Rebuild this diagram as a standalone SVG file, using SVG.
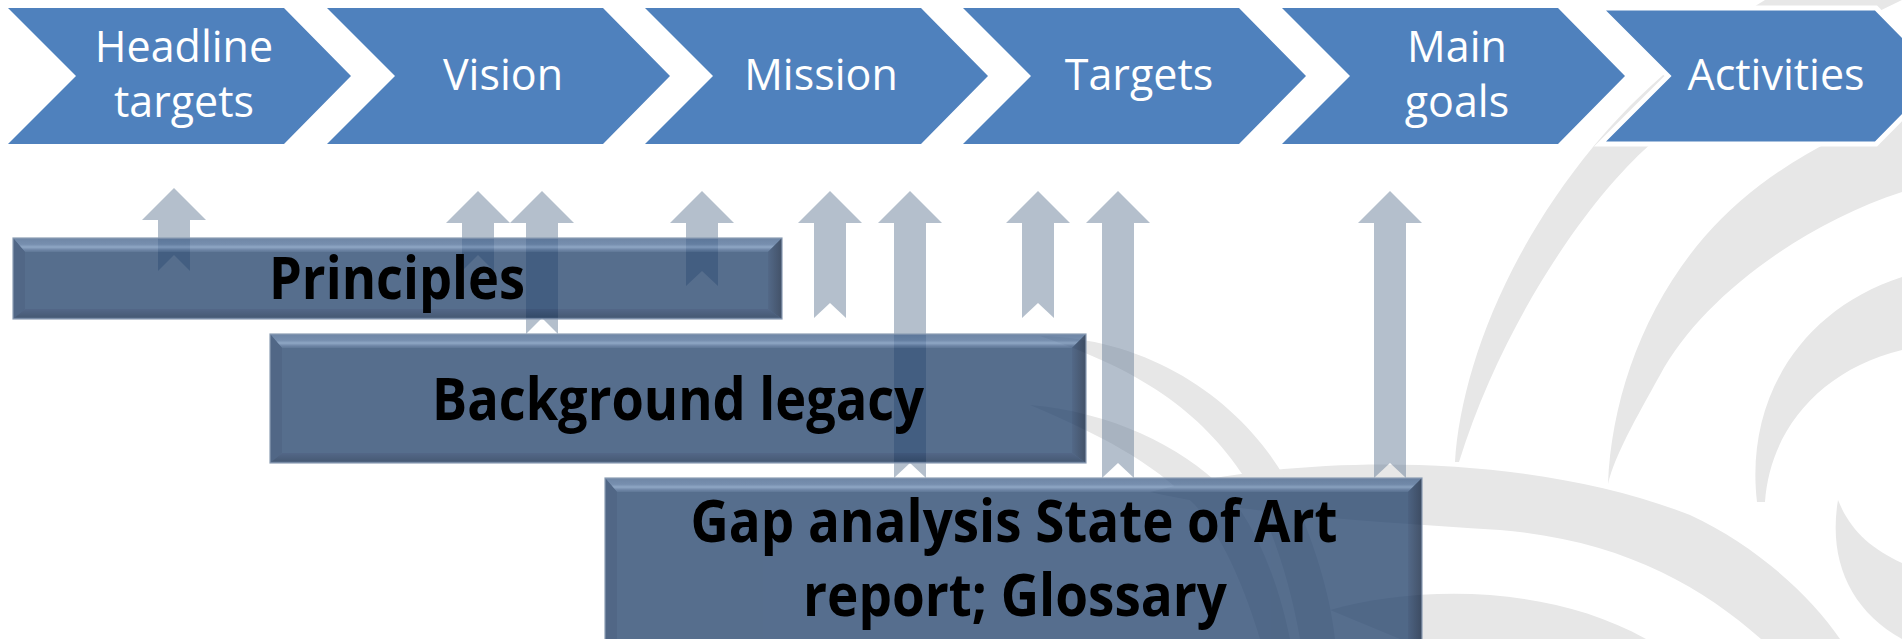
<svg xmlns="http://www.w3.org/2000/svg" width="1902" height="639" viewBox="0 0 1902 639">
<style>
.chev{fill:#4F81BD;}
.lbl{font-family:"Open Sans","Liberation Sans",sans-serif;font-size:43px;fill:#FFFFFF;text-anchor:middle;}
.bold{font-family:"Open Sans","Liberation Sans",sans-serif;font-size:59px;font-weight:700;fill:#000000;text-anchor:middle;}
.arrow{fill:#6A7F99;fill-opacity:0.5;}
.swirl{fill:#E7E7E7;}
.base{fill:#1E3E68;}
.lft{fill:#17355E;}
.edge{fill:none;stroke:#8C9DB4;stroke-width:1.2;}
</style>
<defs>
<linearGradient id="gTop" x1="0" y1="0" x2="0" y2="1">
<stop offset="0" stop-color="#3F5E88"/>
<stop offset="0.45" stop-color="#4A6A94"/>
<stop offset="0.65" stop-color="#6A8AB2"/>
<stop offset="0.85" stop-color="#3F5E88"/>
<stop offset="1" stop-color="#2A4A74"/>
</linearGradient>
<linearGradient id="gRight" x1="0" y1="0" x2="1" y2="0">
<stop offset="0" stop-color="#1A3760"/>
<stop offset="1" stop-color="#041836"/>
</linearGradient>
<linearGradient id="gBottom" x1="0" y1="0" x2="0" y2="1">
<stop offset="0" stop-color="#1A3560"/>
<stop offset="0.8" stop-color="#0A2448"/>
<stop offset="1" stop-color="#34507A"/>
</linearGradient>
</defs>
<rect x="0" y="0" width="1902" height="639" fill="#FFFFFF"/>

<g id="swirl">
<path class="swirl" d="M1455,462 C1460,380 1500,260 1593,147 C1640,90 1700,40 1765,0 L1902,0 C1800,50 1700,100 1643,151 C1580,210 1500,330 1459,462 Z"/>
<path class="swirl" d="M1608,484 C1612,380 1660,260 1760,185 C1800,155 1850,128 1902,112 L1902,192 C1800,225 1700,300 1660,375 C1635,420 1615,455 1608,484 Z"/>
<path class="swirl" d="M1757,502 C1745,400 1800,310 1902,277 L1902,350 C1820,370 1770,430 1765,502 Z"/>
<path class="swirl" d="M1838,500 C1828,560 1850,610 1902,639 L1902,563 C1870,548 1850,530 1838,500 Z"/>
<path class="swirl" d="M1150,492 C1300,452 1530,452 1690,515 C1755,545 1810,595 1840,639 L1761,639 C1700,585 1620,540 1500,530 C1380,522 1250,515 1150,492 Z"/>
<path class="swirl" d="M1330,610 C1420,585 1550,585 1646,639 L1400,639 Z"/>
<path class="swirl" d="M1040,336 C1150,338 1240,400 1285,478 C1310,530 1330,590 1335,639 L1300,639 C1290,580 1270,520 1245,478 C1200,410 1140,370 1040,336 Z"/>
<path class="swirl" d="M1030,405 C1110,412 1180,445 1225,490 C1260,530 1280,590 1290,639 L1260,639 C1245,590 1225,540 1195,505 C1150,460 1100,435 1030,405 Z"/>
</g>

<g id="chevron-headline">
<path class="chev" d="M8,8 L284,8 L351,76 L284,144 L8,144 L76,76 Z"/>
<text class="lbl" x="184" y="62">Headline</text>
<text class="lbl" x="184" y="117">targets</text>
</g>
<g id="chevron-vision">
<path class="chev" d="M327,8 L603,8 L670,76 L603,144 L327,144 L395,76 Z"/>
<text class="lbl" x="503" y="90">Vision</text>
</g>
<g id="chevron-mission">
<path class="chev" d="M645,8 L921,8 L988,76 L921,144 L645,144 L713,76 Z"/>
<text class="lbl" x="821" y="90">Mission</text>
</g>
<g id="chevron-targets">
<path class="chev" d="M963,8 L1239,8 L1306,76 L1239,144 L963,144 L1031,76 Z"/>
<text class="lbl" x="1139" y="90">Targets</text>
</g>
<g id="chevron-maingoals">
<path class="chev" d="M1282,8 L1558,8 L1625,76 L1558,144 L1282,144 L1350,76 Z"/>
<text class="lbl" x="1457" y="62">Main</text>
<text class="lbl" x="1457" y="117">goals</text>
</g>
<g id="chevron-activities">
<path class="chev" d="M1600,8 L1876,8 L1943,76 L1876,144 L1600,144 L1668,76 Z" stroke="#FFFFFF" stroke-width="5" stroke-linejoin="miter"/>
<text class="lbl" x="1776" y="90">Activities</text>
</g>

<g id="connectors">
<path class="arrow" d="M174,188 L206,220 L190,220 L190,271 L174,255 L158,271 L158,220 L142,220 Z"/>
<path class="arrow" d="M478,191 L510,223 L494,223 L494,271 L478,255 L462,271 L462,223 L446,223 Z"/>
<path class="arrow" d="M542,191 L574,223 L558,223 L558,334 L542,318 L526,334 L526,223 L510,223 Z"/>
<path class="arrow" d="M702,191 L734,223 L718,223 L718,286 L702,271 L686,286 L686,223 L670,223 Z"/>
<path class="arrow" d="M830,191 L862,223 L846,223 L846,318 L830,303 L814,318 L814,223 L798,223 Z"/>
<path class="arrow" d="M910,191 L942,223 L926,223 L926,478 L910,463 L894,478 L894,223 L878,223 Z"/>
<path class="arrow" d="M1038,191 L1070,223 L1054,223 L1054,318 L1038,303 L1022,318 L1022,223 L1006,223 Z"/>
<path class="arrow" d="M1118,191 L1150,223 L1134,223 L1134,478 L1118,463 L1102,478 L1102,223 L1086,223 Z"/>
<path class="arrow" d="M1390,191 L1422,223 L1406,223 L1406,478 L1390,463 L1374,478 L1374,223 L1358,223 Z"/>
</g>

<g id="box-principles">
<g opacity="0.75">
<rect class="base" x="13" y="238" width="769" height="81"/>
<polygon fill="url(#gTop)" points="13,238 782,238 768,252 25,252"/>
<polygon class="lft" points="13,238 25,252 25,309 13,319"/>
<polygon fill="url(#gRight)" points="782,238 782,319 768,309 768,252"/>
<polygon fill="url(#gBottom)" points="13,319 25,309 768,309 782,319"/>
</g>
<rect class="edge" x="13" y="238" width="769" height="81"/>
<text class="bold" x="397" y="299" textLength="256" lengthAdjust="spacingAndGlyphs">Principles</text>
</g>

<g id="box-background">
<g opacity="0.75">
<rect class="base" x="270" y="334" width="816" height="129"/>
<polygon fill="url(#gTop)" points="270,334 1086,334 1072,348 282,348"/>
<polygon class="lft" points="270,334 282,348 282,453 270,463"/>
<polygon fill="url(#gRight)" points="1086,334 1086,463 1072,453 1072,348"/>
<polygon fill="url(#gBottom)" points="270,463 282,453 1072,453 1086,463"/>
</g>
<rect class="edge" x="270" y="334" width="816" height="129"/>
<text class="bold" x="678" y="420" textLength="492" lengthAdjust="spacingAndGlyphs">Background legacy</text>
</g>

<g id="box-gap">
<g opacity="0.75">
<rect class="base" x="605" y="478" width="817" height="175"/>
<polygon fill="url(#gTop)" points="605,478 1422,478 1408,492 617,492"/>
<polygon class="lft" points="605,478 617,492 617,643 605,653"/>
<polygon fill="url(#gRight)" points="1422,478 1422,653 1408,643 1408,492"/>
</g>
<rect class="edge" x="605" y="478" width="817" height="175"/>
<text class="bold" x="1014" y="542" textLength="647" lengthAdjust="spacingAndGlyphs">Gap analysis State of Art</text>
<text class="bold" x="1015" y="616" textLength="424" lengthAdjust="spacingAndGlyphs">report; Glossary</text>
</g>
</svg>
